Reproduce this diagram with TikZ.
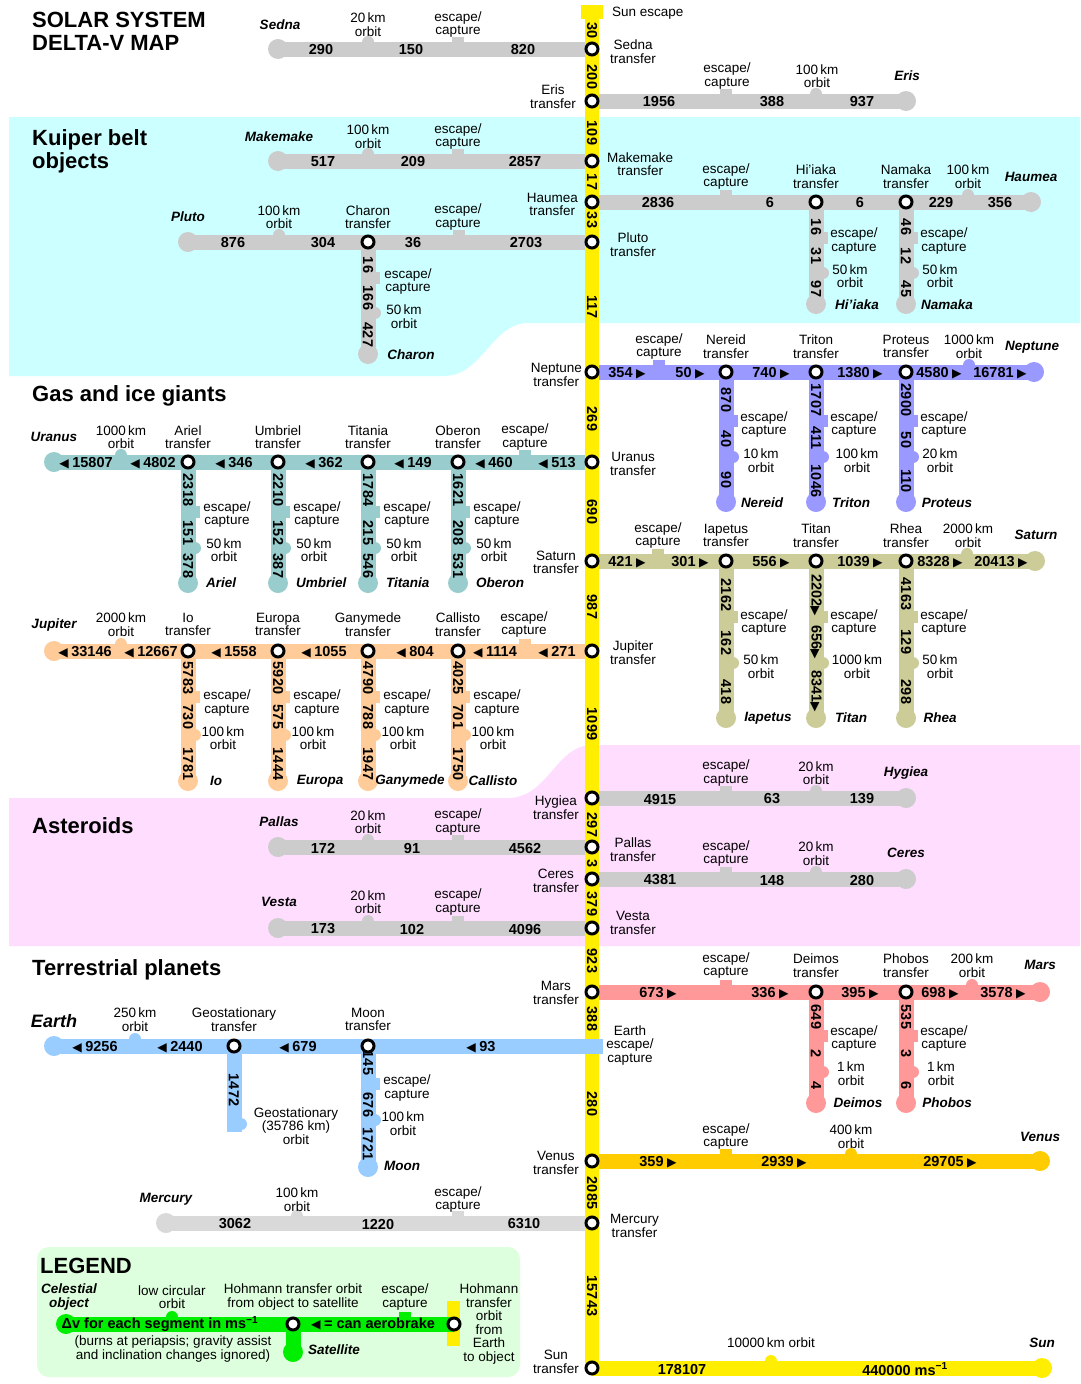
\documentclass[tikz,border=0pt]{standalone}
\usepackage{fontspec}
\setmainfont{Liberation Sans}
\newfontfamily\symfam[Scale=0.85]{DejaVu Sans}
\newcommand\rarr{\kern3.5pt{\symfam ▶}}
\newcommand\larr{{\symfam ◀}\kern3.5pt}
\newcommand\rtight{{\symfam ▶}}
\newcommand\labfont{\fontsize{13.5}{13.5}\selectfont}
\newcommand\numfont{\bfseries\fontsize{14.5}{14.5}\selectfont}
\newcommand\namefont{\bfseries\itshape\fontsize{13.5}{13.5}\selectfont}
\newcommand\bignamefont{\bfseries\itshape\fontsize{18}{18}\selectfont}
\newcommand\headfont{\bfseries\fontsize{22}{23}\selectfont}
\definecolor{cGray}{HTML}{CCCCCC}
\definecolor{cMerc}{HTML}{D9D9D9}
\definecolor{cNep}{HTML}{9999FF}
\definecolor{cUra}{HTML}{99CCCC}
\definecolor{cSat}{HTML}{CCCC99}
\definecolor{cJup}{HTML}{FFCC99}
\definecolor{cMars}{HTML}{FF9999}
\definecolor{cEarth}{HTML}{99CCFF}
\definecolor{cVen}{HTML}{FFCC00}
\definecolor{cSun}{HTML}{FFEE00}
\definecolor{cKuiper}{HTML}{CCFFFF}
\definecolor{cAst}{HTML}{FFDDFF}
\definecolor{cLeg}{HTML}{DDFFDD}
\definecolor{cGreen}{HTML}{00EE00}
\newcounter{txc}
\newcommand\tx[4]{\stepcounter{txc}\node[#1] (T\arabic{txc}) at (#2,#3) {#4};}
\newcommand\hbump[3]{\fill[#1] (#2,#3-7) circle (6);}
\newcommand\htab[3]{\fill[#1] (#2-6,#3-12) rectangle (#2+6,#3);}
\newcommand\vbump[3]{\fill[#1] (#2+7,#3) circle (6);}
\newcommand\vtab[3]{\fill[#1] (#2,#3-6) rectangle (#2+12,#3+6);}
\newcommand\blob[2]{\fill[#1] (#2) circle (10);}
\tikzset{
 trk/.style={line width=15pt},
 stn/.style={circle,draw=black,fill=white,line width=3pt,minimum size=12pt,inner sep=0pt},
 lab/.style={font=\labfont,align=center,inner sep=0pt},
 num/.style={font=\numfont,inner sep=0pt},
 vnum/.style={font=\numfont,inner sep=0pt,rotate=-90},
 pn/.style={font=\namefont,inner sep=0pt,align=center},
 pnbig/.style={font=\bignamefont,inner sep=0pt},
 head/.style={font=\headfont,inner sep=0pt,align=left,anchor=west},
}
\begin{document}
\begin{tikzpicture}[x=1pt,y=-1pt]
\useasboundingbox (0,0) rectangle (1080,1384);
\fill[white] (0,0) rectangle (1080,1384);
% backgrounds
\fill[cKuiper] (9,117) -- (1080,117) -- (1080,323) -- (528,323) .. controls (492,323) and (482,376) .. (444,376) -- (9,376) -- cycle;
\fill[cAst] (9,946) -- (1080,946) -- (1080,745) -- (592,745) .. controls (556,745) and (548,798) .. (508,798) -- (9,798) -- cycle;
\fill[cLeg, rounded corners=12pt] (37,1247) rectangle (520,1377);
% main axis coordinates
\coordinate (sunTop) at (592,12);
\coordinate (sednaT) at (592,49);
\coordinate (erisT) at (592,101);
\coordinate (makeT) at (592,161);
\coordinate (haumT) at (592,202);
\coordinate (plutoT) at (592,242);
\coordinate (nepT) at (592,372);
\coordinate (uraT) at (592,462);
\coordinate (satT) at (592,561);
\coordinate (jupT) at (592,651);
\coordinate (hygT) at (592,798);
\coordinate (palT) at (592,847);
\coordinate (cerT) at (592,879);
\coordinate (vesT) at (592,928);
\coordinate (marsT) at (592,992);
\coordinate (venT) at (592,1161);
\coordinate (mercT) at (592,1223);
\coordinate (sunT) at (592,1368);
% Sedna
\coordinate (sednaEnd) at (278,49);
\draw[trk,cGray] (sednaEnd) -- (sednaT);
\blob{cGray}{sednaEnd} \hbump{cGray}{368}{49} \htab{cGray}{458}{49}
% Eris
\coordinate (erisEnd) at (906,101);
\draw[trk,cGray] (erisT) -- (erisEnd);
\blob{cGray}{erisEnd} \htab{cGray}{726}{101} \hbump{cGray}{816}{101}
% Makemake
\coordinate (makeEnd) at (278,161);
\draw[trk,cGray] (makeEnd) -- (makeT);
\blob{cGray}{makeEnd} \hbump{cGray}{368}{161} \htab{cGray}{458}{161}
% Haumea
\coordinate (haumEnd) at (1031,202); \coordinate (hiT) at (816,202); \coordinate (naT) at (906,202);
\coordinate (hiEnd) at (816,304); \coordinate (naEnd) at (906,304);
\draw[trk,cGray] (haumT) -- (haumEnd);
\draw[trk,cGray] (hiT) -- (hiEnd);
\draw[trk,cGray] (naT) -- (naEnd);
\blob{cGray}{haumEnd} \blob{cGray}{hiEnd} \blob{cGray}{naEnd}
\htab{cGray}{726}{202} \hbump{cGray}{968}{202}
\vtab{cGray}{816}{238} \vbump{cGray}{816}{273}
\vtab{cGray}{906}{238} \vbump{cGray}{906}{273}
% Pluto
\coordinate (plutoEnd) at (188,242); \coordinate (charT) at (368,242); \coordinate (charEnd) at (368,354);
\draw[trk,cGray] (plutoEnd) -- (plutoT);
\draw[trk,cGray] (charT) -- (charEnd);
\blob{cGray}{plutoEnd} \blob{cGray}{charEnd}
\hbump{cGray}{279}{242} \htab{cGray}{459}{242}
\vtab{cGray}{368}{278} \vbump{cGray}{368}{313}
% Neptune
\coordinate (nepEnd) at (1034,372);
\coordinate (nerT) at (726,372); \coordinate (triT) at (816,372); \coordinate (proT) at (906,372);
\coordinate (nerEnd) at (726,502); \coordinate (triEnd) at (816,502); \coordinate (proEnd) at (906,502);
\draw[trk,cNep] (nepT) -- (nepEnd);
\draw[trk,cNep] (nerT) -- (nerEnd);
\draw[trk,cNep] (triT) -- (triEnd);
\draw[trk,cNep] (proT) -- (proEnd);
\blob{cNep}{nepEnd} \blob{cNep}{nerEnd} \blob{cNep}{triEnd} \blob{cNep}{proEnd}
\htab{cNep}{659}{372} \hbump{cNep}{969}{372}
\foreach \bx in {726,816,906} {\vtab{cNep}{\bx}{421} \vbump{cNep}{\bx}{457}}
% Uranus
\coordinate (uraEnd) at (54,462);
\coordinate (arT) at (188,462); \coordinate (umT) at (278,462); \coordinate (tiT) at (368,462); \coordinate (obT) at (458,462);
\coordinate (arEnd) at (188,583); \coordinate (umEnd) at (278,583); \coordinate (tiEnd) at (368,583); \coordinate (obEnd) at (458,583);
\draw[trk,cUra] (uraEnd) -- (uraT);
\draw[trk,cUra] (arT) -- (arEnd);
\draw[trk,cUra] (umT) -- (umEnd);
\draw[trk,cUra] (tiT) -- (tiEnd);
\draw[trk,cUra] (obT) -- (obEnd);
\blob{cUra}{uraEnd} \blob{cUra}{arEnd} \blob{cUra}{umEnd} \blob{cUra}{tiEnd} \blob{cUra}{obEnd}
\hbump{cUra}{121}{462} \htab{cUra}{525}{462}
\foreach \bx in {188,278,368,458} {\vtab{cUra}{\bx}{512} \vbump{cUra}{\bx}{548}}
% Saturn
\coordinate (satEnd) at (1035,561);
\coordinate (iaT) at (726,561); \coordinate (tnT) at (816,561); \coordinate (rhT) at (906,561);
\coordinate (iaEnd) at (726,718); \coordinate (tnEnd) at (816,718); \coordinate (rhEnd) at (906,718);
\draw[trk,cSat] (satT) -- (satEnd);
\draw[trk,cSat] (iaT) -- (iaEnd);
\draw[trk,cSat] (tnT) -- (tnEnd);
\draw[trk,cSat] (rhT) -- (rhEnd);
\blob{cSat}{satEnd} \blob{cSat}{iaEnd} \blob{cSat}{tnEnd} \blob{cSat}{rhEnd}
\htab{cSat}{658}{561} \hbump{cSat}{967}{561}
\foreach \bx in {726,816,906} {\vtab{cSat}{\bx}{617} \vbump{cSat}{\bx}{663}}
% Jupiter
\coordinate (jupEnd) at (54,651);
\coordinate (ioT) at (188,651); \coordinate (euT) at (278,651); \coordinate (gaT) at (368,651); \coordinate (caT) at (458,651);
\coordinate (ioEnd) at (188,781); \coordinate (euEnd) at (278,781); \coordinate (gaEnd) at (368,781); \coordinate (caEnd) at (458,781);
\draw[trk,cJup] (jupEnd) -- (jupT);
\draw[trk,cJup] (ioT) -- (ioEnd);
\draw[trk,cJup] (euT) -- (euEnd);
\draw[trk,cJup] (gaT) -- (gaEnd);
\draw[trk,cJup] (caT) -- (caEnd);
\blob{cJup}{jupEnd} \blob{cJup}{ioEnd} \blob{cJup}{euEnd} \blob{cJup}{gaEnd} \blob{cJup}{caEnd}
\hbump{cJup}{121}{651} \htab{cJup}{525}{651}
\foreach \bx in {188,278,368,458} {\vtab{cJup}{\bx}{697} \vbump{cJup}{\bx}{735}}
% Asteroids
\coordinate (hygEnd) at (906,798);
\draw[trk,cGray] (hygT) -- (hygEnd);
\blob{cGray}{hygEnd} \htab{cGray}{726}{798} \hbump{cGray}{816}{798}
\coordinate (palEnd) at (278,847);
\draw[trk,cGray] (palEnd) -- (palT);
\blob{cGray}{palEnd} \hbump{cGray}{368}{847} \htab{cGray}{458}{847}
\coordinate (cerEnd) at (906,879);
\draw[trk,cGray] (cerT) -- (cerEnd);
\blob{cGray}{cerEnd} \htab{cGray}{726}{879} \hbump{cGray}{816}{879}
\coordinate (vesEnd) at (278,928);
\draw[trk,cGray] (vesEnd) -- (vesT);
\blob{cGray}{vesEnd} \hbump{cGray}{368}{928} \htab{cGray}{458}{928}
% Mars
\coordinate (marsEnd) at (1040,992);
\coordinate (deT) at (816,992); \coordinate (phT) at (906,992);
\coordinate (deEnd) at (816,1103); \coordinate (phEnd) at (906,1103);
\draw[trk,cMars] (marsT) -- (marsEnd);
\draw[trk,cMars] (deT) -- (deEnd);
\draw[trk,cMars] (phT) -- (phEnd);
\blob{cMars}{marsEnd} \blob{cMars}{deEnd} \blob{cMars}{phEnd}
\htab{cMars}{726}{992} \hbump{cMars}{972}{992}
\foreach \bx in {816,906} {\vtab{cMars}{\bx}{1036} \vbump{cMars}{\bx}{1072}}
% Venus
\coordinate (venEnd) at (1040,1161);
\draw[trk,cVen] (venT) -- (venEnd);
\blob{cVen}{venEnd} \htab{cVen}{726}{1161} \hbump{cVen}{851}{1161}
% Mercury
\coordinate (mercEnd) at (166,1223);
\draw[trk,cMerc] (mercEnd) -- (mercT);
\blob{cMerc}{mercEnd} \hbump{cMerc}{297}{1223} \htab{cMerc}{458}{1223}
% Sun
\coordinate (sunEnd) at (1042,1368);
\draw[trk,cSun] (sunT) -- (sunEnd);
\blob{cSun}{sunEnd} \hbump{cSun}{771}{1368}
% main yellow axis
\fill[cSun] (581,5) rectangle (603,19);
\draw[line width=14pt,cSun] (sunTop) -- (sunT);
% Earth
\coordinate (earthEnd) at (54,1046); \coordinate (earthEsc) at (603,1046);
\coordinate (geoT) at (234,1046); \coordinate (moonT) at (368,1046);
\coordinate (geoEnd) at (234,1132); \coordinate (moonEnd) at (368,1167);
\draw[trk,cEarth] (earthEnd) -- (earthEsc);
\draw[trk,cEarth] (geoT) -- (geoEnd);
\draw[trk,cEarth] (moonT) -- (moonEnd);
\blob{cEarth}{earthEnd} \blob{cEarth}{moonEnd}
\hbump{cEarth}{135}{1046} \vbump{cEarth}{234}{1124}
\vtab{cEarth}{368}{1084} \vbump{cEarth}{368}{1120}
% Legend lines
\fill[cSun] (447,1301) rectangle (460,1346);
\coordinate (legEnd) at (66,1324); \coordinate (legS) at (293,1324); \coordinate (legH) at (454,1324); \coordinate (legSat) at (293,1352);
\draw[trk,cGreen] (legEnd) -- (legH);
\draw[trk,cGreen] (legS) -- (legSat);
\blob{cGreen}{legEnd} \blob{cGreen}{legSat}
\hbump{cGreen}{172}{1324} \htab{cGreen}{405}{1324}
% stations
\foreach \nm in {sednaT,erisT,makeT,haumT,plutoT,nepT,uraT,satT,jupT,hygT,palT,cerT,vesT,marsT,venT,mercT,sunT,hiT,naT,charT,nerT,triT,proT,arT,umT,tiT,obT,iaT,tnT,rhT,ioT,euT,gaT,caT,deT,phT,geoT,moonT,legS,legH}
  {\node[stn] (s-\nm) at (\nm) {};}
% ---------- texts ----------
\tx{head}{32}{31.5}{SOLAR SYSTEM\\DELTA-V MAP}
\tx{head}{32}{151.5}{Kuiper belt\\objects}
\tx{head}{32}{396}{Gas and ice giants}
\tx{head}{32}{826}{Asteroids}
\tx{head}{32}{970}{Terrestrial planets}
\tx{head}{40}{1266}{LEGEND}
% yellow axis numbers
\tx{vnum}{592}{31}{30}
\tx{vnum}{592}{77}{200}
\tx{vnum}{592}{133}{109}
\tx{vnum}{592}{182}{17}
\tx{vnum}{592}{220}{33}
\tx{vnum}{592}{307}{117}
\tx{vnum}{592}{419}{269}
\tx{vnum}{592}{512}{690}
\tx{vnum}{592}{607}{987}
\tx{vnum}{592}{724}{1099}
\tx{vnum}{592}{825}{297}
\tx{vnum}{592}{864}{3}
\tx{vnum}{592}{904}{379}
\tx{vnum}{592}{961}{923}
\tx{vnum}{592}{1019}{388}
\tx{vnum}{592}{1104}{280}
\tx{vnum}{592}{1193}{2085}
\tx{vnum}{592}{1296}{15743}
% axis labels
\tx{lab,anchor=west}{612}{13}{Sun escape}
\tx{lab,anchor=west}{610}{51.5}{Sedna\\transfer}
\tx{lab,anchor=east}{576}{96.5}{Eris\\transfer}
\tx{lab,anchor=west}{607}{164}{Makemake\\transfer}
\tx{lab,anchor=east}{578}{204.5}{Haumea\\transfer}
\tx{lab,anchor=west}{610}{244.5}{Pluto\\transfer}
\tx{lab,anchor=east}{582}{375}{Neptune\\transfer}
\tx{lab,anchor=west}{610}{464}{Uranus\\transfer}
\tx{lab,anchor=east}{579}{562.5}{Saturn\\transfer}
\tx{lab,anchor=west}{610}{652.5}{Jupiter\\transfer}
\tx{lab,anchor=east}{579}{807.5}{Hygiea\\transfer}
\tx{lab,anchor=west}{610}{849.5}{Pallas\\transfer}
\tx{lab,anchor=east}{579}{881}{Ceres\\transfer}
\tx{lab,anchor=west}{610}{923}{Vesta\\transfer}
\tx{lab,anchor=east}{579}{993}{Mars\\transfer}
\tx{lab}{630}{1045}{Earth\\escape/\\capture}
\tx{lab,anchor=east}{579}{1163}{Venus\\transfer}
\tx{lab,anchor=west}{610}{1226}{Mercury\\transfer}
\tx{lab,anchor=east}{579}{1362}{Sun\\transfer}
% Sedna
\tx{pn}{280}{25}{Sedna}
\tx{lab}{368}{24.5}{20\,km\\orbit}
\tx{lab}{458}{24.5}{escape/\\capture}
\tx{num}{321}{50}{290} \tx{num}{411}{50}{150} \tx{num}{523}{50}{820}
% Eris
\tx{lab}{727}{76}{escape/\\capture}
\tx{lab}{817}{76}{100\,km\\orbit}
\tx{pn}{907}{76}{Eris}
\tx{num}{659}{102}{1956} \tx{num}{772}{102}{388} \tx{num}{862}{102}{937}
% Makemake
\tx{pn}{279}{137}{Makemake}
\tx{lab}{368}{136.5}{100\,km\\orbit}
\tx{lab}{458}{136.5}{escape/\\capture}
\tx{num}{323}{162}{517} \tx{num}{413}{162}{209} \tx{num}{525}{162}{2857}
% Haumea
\tx{lab}{726}{176.5}{escape/\\capture}
\tx{lab}{816}{176.5}{Hi'iaka\\transfer}
\tx{lab}{906}{176.5}{Namaka\\transfer}
\tx{lab}{968}{176.5}{100\,km\\orbit}
\tx{pn}{1031}{177}{Haumea}
\tx{num}{658}{203}{2836} \tx{num}{770}{203}{6} \tx{num}{860}{203}{6} \tx{num}{941}{203}{229} \tx{num}{1000}{203}{356}
\tx{vnum}{816}{227}{16} \tx{vnum}{816}{256}{31} \tx{vnum}{816}{289}{97}
\tx{lab}{854}{241}{escape/\\capture}
\tx{lab}{850}{276}{50\,km\\orbit}
\tx{pn}{857}{305}{Hi'iaka}
\tx{vnum}{906}{227}{46} \tx{vnum}{906}{256}{12} \tx{vnum}{906}{289}{45}
\tx{lab}{944}{241}{escape/\\capture}
\tx{lab}{940}{276}{50\,km\\orbit}
\tx{pn}{947}{305}{Namaka}
% Pluto
\tx{pn}{188}{217}{Pluto}
\tx{lab}{279}{217}{100\,km\\orbit}
\tx{lab}{368}{217}{Charon\\transfer}
\tx{lab}{458}{217}{escape/\\capture}
\tx{num}{233}{243}{876} \tx{num}{323}{243}{304} \tx{num}{413}{243}{36} \tx{num}{526}{243}{2703}
\tx{vnum}{368}{265}{16} \tx{vnum}{368}{298}{166} \tx{vnum}{368}{335}{427}
\tx{lab}{408}{281.5}{escape/\\capture}
\tx{lab}{404}{316.5}{50\,km\\orbit}
\tx{pn}{411}{355}{Charon}
% Neptune
\tx{lab}{659}{346.5}{escape/\\capture}
\tx{lab}{726}{346.5}{Nereid\\transfer}
\tx{lab}{816}{346.5}{Triton\\transfer}
\tx{lab}{906}{346.5}{Proteus\\transfer}
\tx{lab}{969}{346.5}{1000\,km\\orbit}
\tx{pn}{1032}{347}{Neptune}
\tx{num}{627}{373}{354\rarr} \tx{num}{690}{373}{50\rarr} \tx{num}{771}{373}{740\rarr}
\tx{num}{860}{373}{1380\rarr} \tx{num}{939}{373}{4580\rarr} \tx{num}{1000}{373}{16781\rarr}
\tx{vnum}{726}{400}{870} \tx{vnum}{726}{439}{40} \tx{vnum}{726}{480}{90}
\tx{lab}{764}{424.5}{escape/\\capture}
\tx{lab}{761}{460.5}{10\,km\\orbit}
\tx{pn}{762}{503}{Nereid}
\tx{vnum}{816}{400}{1707} \tx{vnum}{816}{438}{411} \tx{vnum}{816}{481}{1046}
\tx{lab}{854}{424.5}{escape/\\capture}
\tx{lab}{857}{460.5}{100\,km\\orbit}
\tx{pn}{851}{503}{Triton}
\tx{vnum}{906}{400}{2900} \tx{vnum}{906}{440}{50} \tx{vnum}{906}{481}{110}
\tx{lab}{944}{424.5}{escape/\\capture}
\tx{lab}{940}{460.5}{20\,km\\orbit}
\tx{pn}{947}{503}{Proteus}
% Uranus
\tx{pn}{54}{437}{Uranus}
\tx{lab}{121}{437}{1000\,km\\orbit}
\tx{lab}{188}{437}{Ariel\\transfer}
\tx{lab}{278}{437}{Umbriel\\transfer}
\tx{lab}{368}{437}{Titania\\transfer}
\tx{lab}{458}{437}{Oberon\\transfer}
\tx{lab}{525}{437}{escape/\\capture}
\tx{num}{86}{463}{\larr15807} \tx{num}{153}{463}{\larr4802} \tx{num}{234}{463}{\larr346}
\tx{num}{324}{463}{\larr362} \tx{num}{413}{463}{\larr149} \tx{num}{494}{463}{\larr460} \tx{num}{557}{463}{\larr513}
\tx{vnum}{188}{490}{2318} \tx{vnum}{188}{533}{151} \tx{vnum}{188}{566}{378}
\tx{vnum}{278}{490}{2210} \tx{vnum}{278}{533}{152} \tx{vnum}{278}{566}{387}
\tx{vnum}{368}{490}{1784} \tx{vnum}{368}{533}{215} \tx{vnum}{368}{566}{546}
\tx{vnum}{458}{490}{1621} \tx{vnum}{458}{533}{208} \tx{vnum}{458}{566}{531}
\foreach \bx/\bn in {188/Ariel,278/Umbriel,368/Titania,458/Oberon} {
  \tx{lab}{\bx+39}{514.5}{escape/\\capture}
  \tx{lab}{\bx+36}{550}{50\,km\\orbit}
  \tx{pn,anchor=west}{\bx+18}{583}{\bn}
}
% Saturn
\tx{lab}{658}{535.5}{escape/\\capture}
\tx{lab}{726}{535.5}{Iapetus\\transfer}
\tx{lab}{816}{535.5}{Titan\\transfer}
\tx{lab}{906}{535.5}{Rhea\\transfer}
\tx{lab}{968}{535.5}{2000\,km\\orbit}
\tx{pn}{1036}{535}{Saturn}
\tx{num}{627}{562}{421\rarr} \tx{num}{690}{562}{301\rarr} \tx{num}{771}{562}{556\rarr}
\tx{num}{860}{562}{1039\rarr} \tx{num}{940}{562}{8328\rarr} \tx{num}{1001}{562}{20413\rarr}
\tx{vnum}{726}{595}{2162} \tx{vnum}{726}{643}{162} \tx{vnum}{726}{692}{418}
\tx{lab}{764}{622.5}{escape/\\capture}
\tx{lab}{761}{666.5}{50\,km\\orbit}
\tx{pn}{768}{718}{Iapetus}
\tx{vnum}{816}{595}{2202\rtight} \tx{vnum}{816}{642}{656\rtight} \tx{vnum}{816}{691}{8341\rtight}
\tx{lab}{854}{622.5}{escape/\\capture}
\tx{lab}{857}{666.5}{1000\,km\\orbit}
\tx{pn}{851}{718}{Titan}
\tx{vnum}{906}{594}{4163} \tx{vnum}{906}{642}{129} \tx{vnum}{906}{692}{298}
\tx{lab}{944}{622.5}{escape/\\capture}
\tx{lab}{940}{666.5}{50\,km\\orbit}
\tx{pn}{940}{718}{Rhea}
% Jupiter
\tx{pn}{54}{625}{Jupiter}
\tx{lab}{121}{624.5}{2000\,km\\orbit}
\tx{lab}{188}{624.5}{Io\\transfer}
\tx{lab}{278}{624.5}{Europa\\transfer}
\tx{lab}{368}{624.5}{Ganymede\\transfer}
\tx{lab}{458}{624.5}{Callisto\\transfer}
\tx{lab}{524}{624.5}{escape/\\capture}
\tx{num}{85}{652}{\larr33146} \tx{num}{151}{652}{\larr12667} \tx{num}{234}{652}{\larr1558}
\tx{num}{324}{652}{\larr1055} \tx{num}{415}{652}{\larr804} \tx{num}{495}{652}{\larr1114} \tx{num}{557}{652}{\larr271}
\tx{vnum}{188}{678}{5783} \tx{vnum}{188}{717}{730} \tx{vnum}{188}{764}{1781}
\tx{vnum}{278}{678}{5920} \tx{vnum}{278}{717}{575} \tx{vnum}{278}{764}{1444}
\tx{vnum}{368}{678}{4790} \tx{vnum}{368}{717}{788} \tx{vnum}{368}{764}{1947}
\tx{vnum}{458}{678}{4025} \tx{vnum}{458}{717}{701} \tx{vnum}{458}{764}{1750}
\foreach \bx in {188,278,368,458} {
  \tx{lab}{\bx+39}{703}{escape/\\capture}
  \tx{lab}{\bx+35}{738}{100\,km\\orbit}
}
\tx{pn}{216}{781}{Io}
\tx{pn}{320}{781}{Europa}
\tx{pn}{410}{781}{Ganymede}
\tx{pn}{493}{781}{Callisto}
% Asteroids
\tx{lab}{726}{773}{escape/\\capture}
\tx{lab}{816}{773}{20\,km\\orbit}
\tx{pn}{906}{773}{Hygiea}
\tx{num}{660}{799}{4915} \tx{num}{772}{799}{63} \tx{num}{862}{799}{139}
\tx{pn}{279}{822}{Pallas}
\tx{lab}{368}{822}{20\,km\\orbit}
\tx{lab}{458}{822}{escape/\\capture}
\tx{num}{323}{848}{172} \tx{num}{412}{848}{91} \tx{num}{525}{848}{4562}
\tx{lab}{726}{853.5}{escape/\\capture}
\tx{lab}{816}{853.5}{20\,km\\orbit}
\tx{pn}{906}{853}{Ceres}
\tx{num}{660}{880}{4381} \tx{num}{772}{880}{148} \tx{num}{862}{880}{280}
\tx{pn}{279}{902}{Vesta}
\tx{lab}{368}{902}{20\,km\\orbit}
\tx{lab}{458}{902}{escape/\\capture}
\tx{num}{323}{929}{173} \tx{num}{412}{929}{102} \tx{num}{525}{929}{4096}
% Mars
\tx{lab}{726}{965.5}{escape/\\capture}
\tx{lab}{816}{965.5}{Deimos\\transfer}
\tx{lab}{906}{965.5}{Phobos\\transfer}
\tx{lab}{972}{965.5}{200\,km\\orbit}
\tx{pn}{1040}{965}{Mars}
\tx{num}{658}{993}{673\rarr} \tx{num}{770}{993}{336\rarr} \tx{num}{860}{993}{395\rarr}
\tx{num}{940}{993}{698\rarr} \tx{num}{1003}{993}{3578\rarr}
\tx{vnum}{816}{1017}{649} \tx{vnum}{816}{1054}{2} \tx{vnum}{816}{1086}{4}
\tx{lab}{854}{1038.5}{escape/\\capture}
\tx{lab}{851}{1073.5}{1\,km\\orbit}
\tx{pn}{858}{1103}{Deimos}
\tx{vnum}{906}{1017}{535} \tx{vnum}{906}{1054}{3} \tx{vnum}{906}{1086}{6}
\tx{lab}{944}{1038.5}{escape/\\capture}
\tx{lab}{941}{1073.5}{1\,km\\orbit}
\tx{pn}{947}{1103}{Phobos}
% Earth
\tx{pnbig}{54}{1021}{Earth}
\tx{lab}{135}{1019.5}{250\,km\\orbit}
\tx{lab}{234}{1019.5}{Geostationary\\transfer}
\tx{lab}{368}{1019.5}{Moon\\transfer}
\tx{num}{95}{1047}{\larr9256} \tx{num}{180}{1047}{\larr2440} \tx{num}{298}{1047}{\larr679} \tx{num}{481}{1047}{\larr93}
\tx{vnum}{234}{1090}{1472}
\tx{lab}{296}{1126}{Geostationary\\(35786 km)\\orbit}
\tx{vnum}{368}{1063}{145} \tx{vnum}{368}{1105}{676} \tx{vnum}{368}{1144}{1721}
\tx{lab}{407}{1088}{escape/\\capture}
\tx{lab}{403}{1123.5}{100\,km\\orbit}
\tx{pn}{402}{1166}{Moon}
% Venus
\tx{lab}{726}{1136.5}{escape/\\capture}
\tx{lab}{851}{1136.5}{400\,km\\orbit}
\tx{pn}{1040}{1137}{Venus}
\tx{num}{658}{1162}{359\rarr} \tx{num}{784}{1162}{2939\rarr} \tx{num}{950}{1162}{29705\rarr}
% Mercury
\tx{pn}{166}{1199}{Mercury}
\tx{lab}{297}{1199.5}{100\,km\\orbit}
\tx{lab}{458}{1199.5}{escape/\\capture}
\tx{num}{235}{1224}{3062} \tx{num}{378}{1224}{1220} \tx{num}{524}{1224}{6310}
% Sun
\tx{lab}{771}{1343}{10000\,km orbit}
\tx{pn}{1042}{1343}{Sun}
\tx{num}{682}{1369}{178107} \tx{num}{905}{1369}{440000 ms\textsuperscript{−1}}
% Legend
\tx{pn}{69}{1297}{Celestial\\object}
\tx{lab}{172}{1297}{low circular\\orbit}
\tx{lab}{293}{1297}{Hohmann transfer orbit\\from object to satellite}
\tx{lab}{405}{1297}{escape/\\capture}
\tx{lab}{489}{1324}{Hohmann\\transfer\\orbit\\from\\Earth\\to object}
\tx{num}{160}{1324}{Δv for each segment in ms\textsuperscript{−1}}
\tx{num}{373}{1324}{\larr= can aerobrake}
\tx{pn}{334}{1350}{Satellite}
\tx{lab}{173}{1349}{(burns at periapsis; gravity assist\\and inclination changes ignored)}
\end{tikzpicture}
\end{document}
